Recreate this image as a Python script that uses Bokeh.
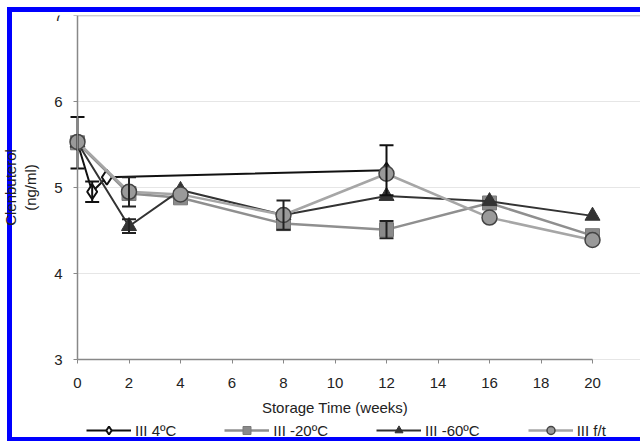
from bokeh.plotting import figure
from bokeh.models import (ColumnDataSource, Whisker, TeeHead, Legend, LegendItem,
                          FixedTicker, Range1d, LinearAxis)
from bokeh.embed import file_html
from bokeh.resources import INLINE

# ---- data ----
weeks_4C = [0, 0.57, 1.14, 12]
clen_4C = [5.52, 4.95, 5.12, 5.20]
err_4C = [0.30, 0.12, 0.0, 0.29]

weeks = [0, 2, 4, 8, 12, 16, 20]
clen_m20C = [5.52, 4.93, 4.88, 4.58, 4.51, 4.82, 4.44]
err_m20C = [0, 0, 0, 0, 0.10, 0, 0]
clen_m60C = [5.52, 4.55, 4.97, 4.68, 4.90, 4.84, 4.67]
err_m60C = [0, 0.08, 0, 0, 0, 0, 0]
clen_ft = [5.53, 4.95, 4.92, 4.68, 5.16, 4.65, 4.39]
err_ft = [0, 0.17, 0, 0.17, 0, 0, 0]

series_names = ["III 4ºC", "III -20ºC", "III -60ºC", "III f/t"]
x_ticks = list(range(0, 23, 2))
y_ticks = [3, 4, 5, 6, 7]
x_min, x_max = 0, 20
y_min, y_max = 3, 7

FONT = "Liberation Sans"
BLUE = "#0000ff"
PX_X = 25.75   # px per week
PX_Y = 86.0    # px per ng/ml

# the frame covers the whole canvas so that axes, labels and legend are drawn inside it
p = figure(width=640, height=441, output_backend="svg", toolbar_location=None,
           x_range=Range1d(x_min - 77 / PX_X, x_min + 563 / PX_X),
           y_range=Range1d(y_min - 82 / PX_Y, y_max),
           min_border_left=0, min_border_right=0, min_border_top=15, min_border_bottom=0)
p.styles = {
    "background": (f"linear-gradient({BLUE},{BLUE}) 7px 7px / 5px 434px no-repeat, "
                   f"linear-gradient({BLUE},{BLUE}) 7px 7px / 633px 5px no-repeat, "
                   f"linear-gradient({BLUE},{BLUE}) 7px 437px / 633px 4px no-repeat, #ffffff")
}
p.border_fill_alpha = 0
p.background_fill_alpha = 0
p.outline_line_color = None
p.xgrid.grid_line_color = None
p.ygrid.grid_line_color = None

# horizontal grid lines (as inward ticks of a plain axis at x = 0)
grid_axis = LinearAxis(fixed_location=x_min, ticker=FixedTicker(ticks=y_ticks),
                       axis_line_color=None, major_tick_in=563, major_tick_out=0,
                       major_tick_line_color="#e6e6e6", minor_tick_line_color=None,
                       major_label_text_color=None, level="underlay")
p.add_layout(grid_axis, "left")
edge_axis = LinearAxis(fixed_location=x_min, ticker=FixedTicker(ticks=[y_max]),
                       axis_line_color=None, major_tick_in=563, major_tick_out=0,
                       major_tick_line_color="#aaaaaa", major_tick_line_width=1.5,
                       minor_tick_line_color=None, major_label_text_color=None,
                       level="underlay")
p.add_layout(edge_axis, "left")

p.xaxis[0].ticker = FixedTicker(ticks=x_ticks)
p.yaxis[0].ticker = FixedTicker(ticks=y_ticks)
p.xaxis[0].fixed_location = y_min
p.yaxis[0].fixed_location = x_min
p.xaxis[0].bounds = (x_min, x_max)
p.yaxis[0].bounds = (y_min, y_max)
for ax in (p.xaxis[0], p.yaxis[0]):
    ax.axis_line_color = "#888888"
    ax.axis_line_width = 1.5
    ax.major_tick_line_color = "#888888"
    ax.major_tick_out = 4
    ax.major_tick_in = 0
    ax.minor_tick_line_color = None
    ax.major_label_text_font = FONT
    ax.major_label_text_font_size = "15px"
    ax.major_label_text_color = "#222222"
    ax.axis_label_text_font = FONT
    ax.axis_label_text_font_size = "15px"
    ax.axis_label_text_font_style = "normal"
    ax.axis_label_text_color = "#222222"

p.xaxis[0].axis_label = "Storage Time (weeks)"
p.xaxis[0].major_label_standoff = 14
p.xaxis[0].axis_label_standoff = 8
p.yaxis[0].axis_label = "Clenbuterol\n(ng/ml)"
p.yaxis[0].major_label_standoff = 11
p.yaxis[0].axis_label_standoff = 12


def errors(xs, ys, es, color):
    xx = [x for x, e in zip(xs, es) if e > 0]
    lo = [y - e for y, e in zip(ys, es) if e > 0]
    hi = [y + e for y, e in zip(ys, es) if e > 0]
    src = ColumnDataSource(dict(x=xx, lo=lo, hi=hi))
    w = Whisker(source=src, base="x", lower="lo", upper="hi", line_color=color,
                line_width=2,
                upper_head=TeeHead(size=14, line_color=color, line_width=2),
                lower_head=TeeHead(size=14, line_color=color, line_width=2))
    w.level = "glyph"
    p.add_layout(w)


items = []

# 4 C
errors(weeks_4C, clen_4C, err_4C, "#111111")
l1 = p.line(weeks_4C, clen_4C, line_color="#111111", line_width=2)
m1 = p.scatter(weeks_4C, clen_4C, marker="diamond", size=15, fill_color="white",
               line_color="#111111", line_width=2)
items.append(LegendItem(label=series_names[0], renderers=[l1, m1]))

# -20 C
errors(weeks, clen_m20C, err_m20C, "#222222")
l2 = p.line(weeks, clen_m20C, line_color="#8f8f8f", line_width=2.5)
m2 = p.scatter(weeks, clen_m20C, marker="square", size=14, fill_color="#8a8a8a",
               line_color="#7a7a7a", line_width=1)
items.append(LegendItem(label=series_names[1], renderers=[l2, m2]))

# -60 C
errors(weeks, clen_m60C, err_m60C, "#222222")
l3 = p.line(weeks, clen_m60C, line_color="#333333", line_width=2)
m3 = p.scatter(weeks, clen_m60C, marker="triangle", size=15, fill_color="#333333",
               line_color="#333333", line_width=1)
items.append(LegendItem(label=series_names[2], renderers=[l3, m3]))

# f/t
errors(weeks, clen_ft, err_ft, "#222222")
l4 = p.line(weeks, clen_ft, line_color="#a6a6a6", line_width=2.5)
m4 = p.scatter(weeks, clen_ft, marker="circle", size=15, fill_color="#9a9a9a",
               line_color="#444444", line_width=1.5)
items.append(LegendItem(label=series_names[3], renderers=[l4, m4]))

legend = Legend(items=items, orientation="horizontal", location=(86, 1),
                glyph_width=45, glyph_height=20, label_standoff=4, spacing=48,
                padding=0, margin=0, border_line_color=None,
                background_fill_alpha=0, label_text_font=FONT,
                label_text_font_size="15px", label_text_color="#222222")
p.add_layout(legend)

open("out.html", "w").write(file_html(p, INLINE))
